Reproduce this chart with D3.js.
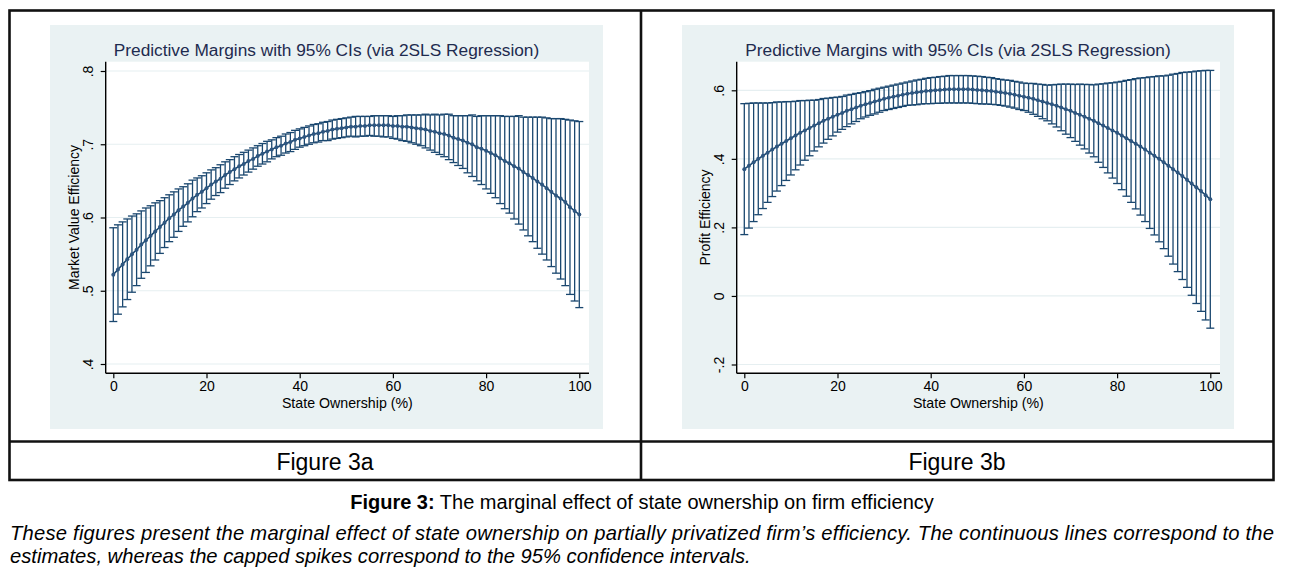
<!DOCTYPE html>
<html>
<head>
<meta charset="utf-8">
<script src="https://cdn.jsdelivr.net/npm/d3@7"></script>
<style>
  body { margin: 0; background: #fff; }
  svg { display: block; font-family: "Liberation Sans", Arial, sans-serif; }
</style>
</head>
<body>
<svg id="fig" width="1289" height="585"></svg>
<script>
// State ownership (%) at which margins were evaluated
const ownership = [
  0, 1, 2, 3, 4, 5, 6, 7, 8, 9,
  10, 11, 12, 13, 14, 15, 16, 17, 18, 19,
  20, 21, 22, 23, 24, 25, 26, 27, 28, 29,
  30, 31, 32, 33, 34, 35, 36, 37, 38, 39,
  40, 41, 42, 43, 44, 45, 46, 47, 48, 49,
  50, 51, 52, 53, 54, 55, 56, 57, 58, 59,
  60, 61, 62, 63, 64, 65, 66, 67, 68, 69,
  70, 71, 72, 73, 74, 75, 76, 77, 78, 79,
  80, 81, 82, 83, 84, 85, 86, 87, 88, 89,
  90, 91, 92, 93, 94, 95, 96, 97, 98, 99,
  100
];

// Figure 3a: market value efficiency (estimate, lower and upper 95% CI)
const mveEst = [
  .522, .529, .536, .543, .550, .556, .563, .569, .575, .581,
  .587, .593, .599, .604, .610, .615, .620, .626, .631, .635,
  .640, .645, .649, .653, .658, .662, .666, .670, .673, .677,
  .680, .684, .687, .690, .693, .696, .698, .701, .703, .706,
  .708, .710, .712, .714, .715, .717, .718, .720, .721, .722,
  .723, .724, .724, .725, .725, .726, .726, .726, .726, .726,
  .725, .725, .724, .724, .723, .722, .721, .720, .718, .717,
  .715, .714, .712, .709, .707, .705, .702, .700, .696, .694,
  .691, .688, .685, .681, .677, .674, .670, .667, .662, .658,
  .654, .649, .645, .640, .635, .630, .626, .621, .614, .609,
  .604
];
const mveLo = [
  .458, .468, .478, .488, .498, .507, .517, .525, .534, .542,
  .551, .559, .567, .573, .581, .588, .594, .601, .608, .613,
  .619, .625, .630, .634, .640, .645, .650, .654, .658, .662,
  .666, .670, .673, .676, .680, .683, .685, .688, .690, .693,
  .696, .698, .700, .702, .703, .705, .705, .707, .708, .709,
  .710, .711, .710, .711, .711, .712, .711, .711, .710, .710,
  .708, .707, .705, .704, .702, .700, .698, .695, .692, .689,
  .686, .683, .679, .675, .671, .667, .661, .656, .650, .645,
  .639, .633, .627, .619, .612, .606, .598, .591, .583, .575,
  .567, .558, .550, .542, .533, .524, .516, .507, .495, .486,
  .477
];
const mveHi = [
  .586, .590, .594, .598, .602, .605, .609, .613, .616, .620,
  .623, .627, .631, .635, .639, .642, .646, .651, .654, .657,
  .661, .665, .668, .672, .676, .679, .683, .686, .689, .692,
  .695, .698, .701, .704, .706, .709, .711, .714, .716, .719,
  .721, .723, .725, .727, .728, .730, .731, .733, .734, .735,
  .736, .737, .738, .738, .738, .738, .739, .739, .739, .739,
  .738, .739, .739, .740, .740, .740, .740, .741, .740, .741,
  .740, .741, .741, .739, .739, .739, .739, .740, .738, .739,
  .739, .739, .739, .739, .738, .738, .738, .739, .737, .737,
  .737, .737, .737, .736, .735, .735, .735, .734, .733, .732,
  .731
];

// Figure 3b: profit efficiency (estimate, lower and upper 95% CI)
const profitEst = [
  .370, .380, .390, .400, .409, .418, .427, .436, .444, .452,
  .460, .468, .476, .483, .490, .497, .504, .511, .517, .523,
  .529, .534, .540, .545, .550, .555, .559, .563, .567, .571,
  .575, .578, .581, .584, .587, .590, .592, .594, .596, .598,
  .599, .600, .601, .602, .603, .603, .603, .603, .603, .602,
  .601, .600, .599, .598, .596, .594, .592, .590, .587, .584,
  .581, .578, .575, .571, .567, .563, .559, .555, .550, .545,
  .540, .534, .529, .523, .517, .511, .504, .497, .490, .483,
  .476, .468, .460, .452, .444, .436, .427, .418, .409, .400,
  .390, .380, .370, .360, .350, .339, .328, .317, .306, .294,
  .282
];
const profitLo = [
  .179, .198, .217, .237, .255, .273, .290, .306, .322, .337,
  .353, .368, .382, .396, .409, .423, .435, .446, .457, .467,
  .478, .486, .494, .502, .509, .517, .522, .527, .531, .536,
  .541, .544, .547, .550, .553, .556, .557, .558, .560, .561,
  .561, .562, .562, .563, .563, .563, .563, .563, .563, .562,
  .561, .560, .560, .559, .558, .556, .554, .551, .548, .544,
  .541, .536, .530, .524, .517, .511, .502, .493, .482, .472,
  .462, .451, .440, .429, .417, .406, .390, .375, .359, .344,
  .328, .310, .291, .273, .254, .236, .217, .197, .178, .158,
  .138, .116, .093, .071, .048, .025, .002, -.022, -.045, -.070,
  -.094
];
const profitHi = [
  .561, .562, .563, .563, .563, .563, .564, .566, .566, .567,
  .567, .568, .570, .570, .571, .571, .573, .576, .577, .579,
  .580, .582, .586, .588, .591, .593, .596, .599, .603, .606,
  .609, .612, .615, .618, .621, .624, .627, .630, .632, .635,
  .637, .638, .640, .641, .643, .643, .643, .643, .643, .642,
  .641, .640, .638, .637, .634, .632, .630, .629, .626, .624,
  .621, .620, .620, .618, .617, .615, .616, .617, .618, .618,
  .618, .617, .618, .617, .617, .616, .618, .619, .621, .622,
  .624, .626, .629, .631, .634, .636, .637, .639, .640, .642,
  .642, .644, .647, .649, .652, .653, .654, .656, .657, .658,
  .658
];

// Axis ticks and labels
const xTicks = [0, 20, 40, 60, 80, 100];
const mveTicks = [.4, .5, .6, .7, .8];
const mveTickLabels = [".4", ".5", ".6", ".7", ".8"];
const profitTicks = [-.2, 0, .2, .4, .6];
const profitTickLabels = ["-.2", "0", ".2", ".4", ".6"];

const chartTitle = "Predictive Margins with 95% CIs (via 2SLS Regression)";
const xTitle = "State Ownership (%)";

const svg = d3.select("#fig");
const navy = "#1a476f";

function drawPanel(opt) {
  const g = svg.append("g");

  // Light blue graph region
  g.append("rect")
    .attr("x", opt.bg[0]).attr("y", opt.bg[1])
    .attr("width", opt.bg[2] - opt.bg[0]).attr("height", opt.bg[3] - opt.bg[1])
    .attr("fill", "#eaf2f3");

  // White plot region
  g.append("rect")
    .attr("x", opt.plot[0]).attr("y", opt.plot[1])
    .attr("width", opt.plot[2] - opt.plot[0]).attr("height", opt.plot[3] - opt.plot[1])
    .attr("fill", "#fff");

  const x = d3.scaleLinear().domain([0, 100]).range(opt.xRange);
  const y = d3.scaleLinear().domain(opt.yDomain).range(opt.yRange);

  // Grid lines
  g.selectAll(".grid")
    .data(opt.yTicks)
    .enter().append("line")
    .attr("x1", opt.plot[0]).attr("x2", opt.plot[2])
    .attr("y1", d => y(d)).attr("y2", d => y(d))
    .attr("stroke", "#e6eff1").attr("stroke-width", 1.2);

  // Capped spikes
  const rows = ownership.map((o, i) => ({ o, est: opt.est[i], lo: opt.lo[i], hi: opt.hi[i] }));
  const spikes = g.append("g").attr("stroke", navy).attr("stroke-width", 1.3);
  spikes.selectAll(".spike")
    .data(rows).enter().append("line")
    .attr("x1", d => x(d.o)).attr("x2", d => x(d.o))
    .attr("y1", d => y(d.lo)).attr("y2", d => y(d.hi));
  spikes.selectAll(".capHi")
    .data(rows).enter().append("line")
    .attr("x1", d => x(d.o) - 4).attr("x2", d => x(d.o) + 4)
    .attr("y1", d => y(d.hi)).attr("y2", d => y(d.hi));
  spikes.selectAll(".capLo")
    .data(rows).enter().append("line")
    .attr("x1", d => x(d.o) - 4).attr("x2", d => x(d.o) + 4)
    .attr("y1", d => y(d.lo)).attr("y2", d => y(d.lo));

  // Estimate line with markers
  g.append("path")
    .datum(rows)
    .attr("d", d3.line().x(d => x(d.o)).y(d => y(d.est)))
    .attr("fill", "none").attr("stroke", navy).attr("stroke-width", 1.6);
  g.selectAll(".pt")
    .data(rows).enter().append("circle")
    .attr("cx", d => x(d.o)).attr("cy", d => y(d.est))
    .attr("r", 2).attr("fill", "#2e5680");

  // Axes
  const xAxis = g.append("g")
    .attr("transform", `translate(0,${opt.plot[3]})`)
    .call(d3.axisBottom(x).tickValues(xTicks).tickSize(5).tickPadding(3).tickFormat(d3.format("d")));
  xAxis.select(".domain").attr("d", `M${opt.plot[0]},0H${opt.plot[2]}`).attr("stroke-width", 1.4);
  xAxis.selectAll(".tick line").attr("stroke-width", 1.2);
  xAxis.selectAll("text").attr("font-size", 14).attr("fill", "#000")
    .attr("font-family", "Liberation Sans, Arial, sans-serif");

  const yAxis = g.append("g")
    .attr("transform", `translate(${opt.plot[0]},0)`)
    .call(d3.axisLeft(y).tickValues(opt.yTicks).tickSize(5).tickFormat((d, i) => opt.yTickLabels[i]));
  yAxis.select(".domain").attr("d", `M0,${opt.plot[1]}V${opt.plot[3]}`).attr("stroke-width", 1.4);
  yAxis.selectAll(".tick line").attr("stroke-width", 1.2);
  yAxis.selectAll("text")
    .attr("font-size", 14).attr("fill", "#000")
    .attr("font-family", "Liberation Sans, Arial, sans-serif")
    .attr("x", null).attr("dy", null)
    .attr("text-anchor", "middle")
    .attr("transform", "translate(-13,0) rotate(-90)");

  // Titles
  g.append("text")
    .attr("x", (opt.bg[0] + opt.bg[2]) / 2).attr("y", 56)
    .attr("text-anchor", "middle").attr("font-size", 17.3).attr("fill", "#1e2b4f")
    .text(chartTitle);
  g.append("text")
    .attr("x", (opt.plot[0] + opt.plot[2]) / 2).attr("y", 408)
    .attr("text-anchor", "middle").attr("font-size", 14.2)
    .text(xTitle);
  g.append("text")
    .attr("transform", `translate(${opt.plot[0] - 27},${(opt.plot[1] + opt.plot[3]) / 2}) rotate(-90)`)
    .attr("text-anchor", "middle").attr("font-size", 14)
    .text(opt.yTitle);
}

drawPanel({
  bg: [50, 25, 603, 429],
  plot: [105.7, 61.7, 589, 373.3],
  xRange: [113.3, 579.3],
  yDomain: [.4, .8], yRange: [364, 71],
  yTicks: mveTicks, yTickLabels: mveTickLabels,
  yTitle: "Market Value Efficiency",
  est: mveEst, lo: mveLo, hi: mveHi
});

drawPanel({
  bg: [682, 25, 1234, 429],
  plot: [736.7, 61.7, 1220, 373.3],
  xRange: [744.3, 1210.3],
  yDomain: [-.2, .6], yRange: [364.5, 90.3],
  yTicks: profitTicks, yTickLabels: profitTickLabels,
  yTitle: "Profit Efficiency",
  est: profitEst, lo: profitLo, hi: profitHi
});

// Table frame
const frame = svg.append("g").attr("stroke", "#111").attr("stroke-width", 2.6).attr("fill", "none");
frame.append("rect").attr("x", 9.5).attr("y", 10.5).attr("width", 1264).attr("height", 469.5);
frame.append("line").attr("x1", 641).attr("x2", 641).attr("y1", 10.5).attr("y2", 480);
frame.append("line").attr("x1", 9.5).attr("x2", 1273.5).attr("y1", 441.5).attr("y2", 441.5);

svg.append("text").attr("x", 325).attr("y", 470).attr("text-anchor", "middle")
  .attr("font-size", 23).text("Figure 3a");
svg.append("text").attr("x", 957).attr("y", 470).attr("text-anchor", "middle")
  .attr("font-size", 23).text("Figure 3b");

// Caption
const cap = svg.append("text").attr("x", 642).attr("y", 509).attr("text-anchor", "middle")
  .attr("font-size", 20);
cap.append("tspan").attr("font-weight", "bold").text("Figure 3:");
cap.append("tspan").text(" The marginal effect of state ownership on firm efficiency");

svg.append("text").attr("x", 10).attr("y", 540).attr("font-size", 20.2).attr("font-style", "italic")
  .attr("textLength", 1264).attr("lengthAdjust", "spacing")
  .text("These figures present the marginal effect of state ownership on partially privatized firm’s efficiency. The continuous lines correspond to the");
svg.append("text").attr("x", 10).attr("y", 563).attr("font-size", 20.2).attr("font-style", "italic")
  .text("estimates, whereas the capped spikes correspond to the 95% confidence intervals.");
</script>
</body>
</html>
